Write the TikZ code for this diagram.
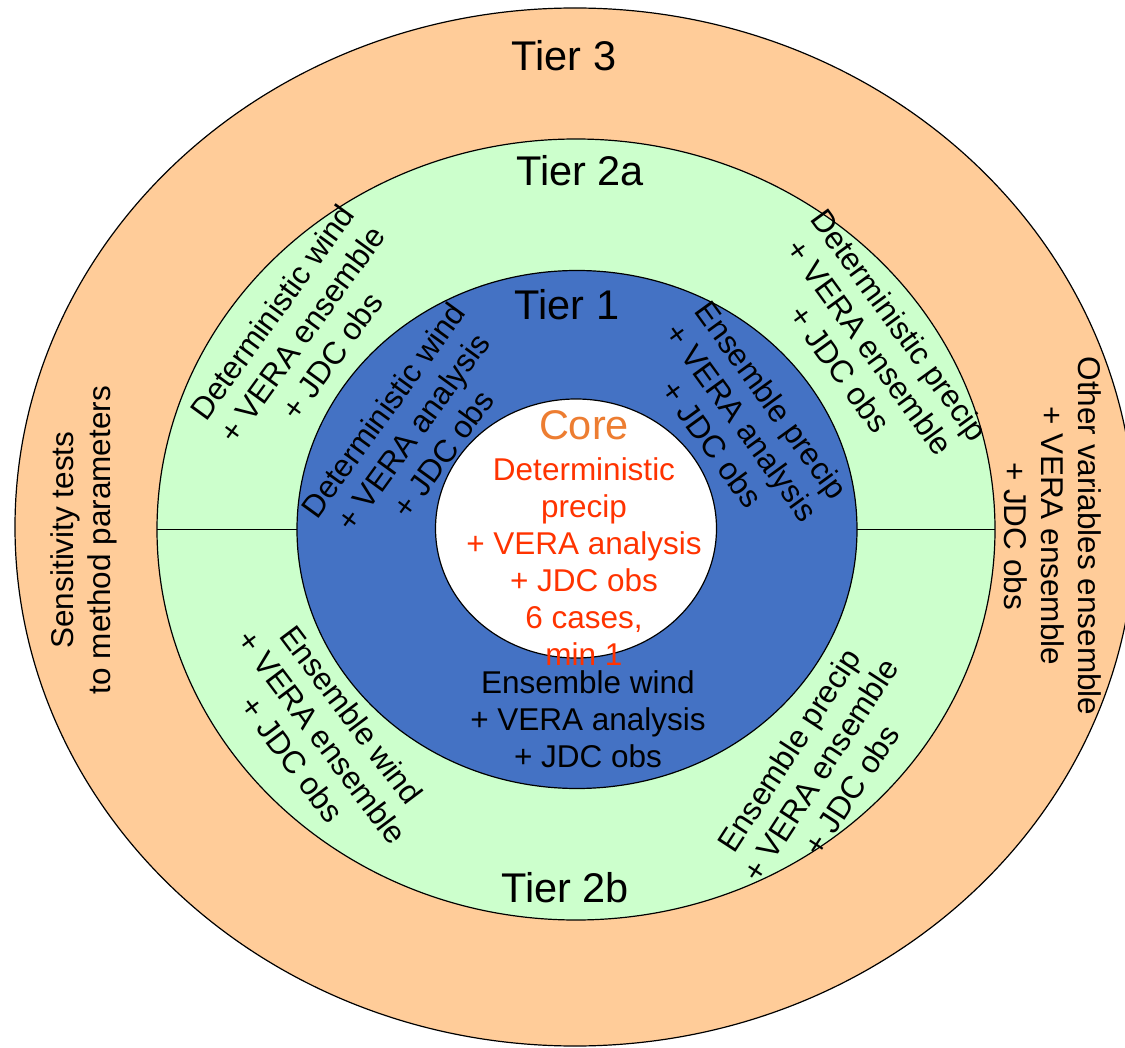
\documentclass[tikz,border=0pt]{standalone}
\usepackage{fontspec}
\setmainfont{Liberation Sans}
\usetikzlibrary{shapes.geometric}

\definecolor{tierthree}{RGB}{255,204,153}
\definecolor{tiertwo}{RGB}{204,255,204}
\definecolor{tierone}{RGB}{68,114,196}
\definecolor{coretitle}{RGB}{237,125,49}
\definecolor{coretext}{RGB}{255,51,0}

\tikzset{
  ring/.style={ellipse, draw, line width=1.2pt, inner sep=0pt, outer sep=0pt},
  lbl/.style={align=center, font=\fontsize{31.5}{37}\selectfont},
  tierlbl/.style={anchor=base, font=\fontsize{41.5}{48}\selectfont}
}

\begin{document}
\begin{tikzpicture}[x=1pt,y=-1pt]
  \useasboundingbox (0,0) rectangle (1125,1048);

  % rings, outermost first
  \node[ring, fill=tierthree, minimum width=1120pt, minimum height=1038pt] (tier3) at (575,527) {};
  \node[ring, fill=tiertwo, minimum width=838pt, minimum height=781pt] (tier2) at (576,529.5) {};
  \node[ring, fill=tierone, minimum width=560pt, minimum height=518pt] (tier1) at (577,529.5) {};
  \node[ring, fill=white, minimum width=281pt, minimum height=259pt] (core) at (576,528.5) {};

  % tier 2 is split into 2a (top) and 2b (bottom)
  \draw[line width=1.2pt] (tier2.west) -- (tier1.west);
  \draw[line width=1.2pt] (tier1.east) -- (tier2.east);

  % ring titles
  \node[tierlbl] (t3) at (564,71) {Tier 3};
  \node[tierlbl] (t2a) at (580,186) {Tier 2a};
  \node[tierlbl] (t1) at (567,320) {Tier 1};
  \node[tierlbl] (t2b) at (565,902) {Tier 2b};

  % core
  \node[tierlbl, text=coretitle] (coreti) at (584,440) {Core};
  \node[lbl, text=coretext] (coretx) at (584,562)
    {Deterministic\\precip\\+ VERA analysis\\+ JDC obs\\6 cases,\\min 1};

  % tier 1
  \node[lbl, rotate=54] (detwindA) at (413,432) {Deterministic wind\\+ VERA analysis\\+ JDC obs};
  \node[lbl, rotate=-54] (ensprecA) at (742,422) {Ensemble precip\\+ VERA analysis\\+ JDC obs};
  \node[lbl] (enswindA) at (588,719) {Ensemble wind\\+ VERA analysis\\+ JDC obs};

  % tier 2a and 2b
  \node[lbl, rotate=54] (detwindE) at (302,334) {Deterministic wind\\+ VERA ensemble\\+ JDC obs};
  \node[lbl, rotate=-54] (detprecE) at (870,347) {Deterministic precip\\+ VERA ensemble\\+ JDC obs};
  \node[lbl, rotate=-53] (enswindE) at (322,737) {Ensemble wind\\+ VERA ensemble\\+ JDC obs};
  \node[lbl, rotate=57] (ensprecE) at (820,770) {Ensemble precip\\+ VERA ensemble\\+ JDC obs};

  % tier 3
  \node[lbl, rotate=90] (sens) at (84,540) {Sensitivity tests\\to method parameters};
  \node[lbl, rotate=-90] (othervar) at (1053,536) {Other variables ensemble\\+ VERA ensemble\\+ JDC obs};
\end{tikzpicture}
\end{document}
